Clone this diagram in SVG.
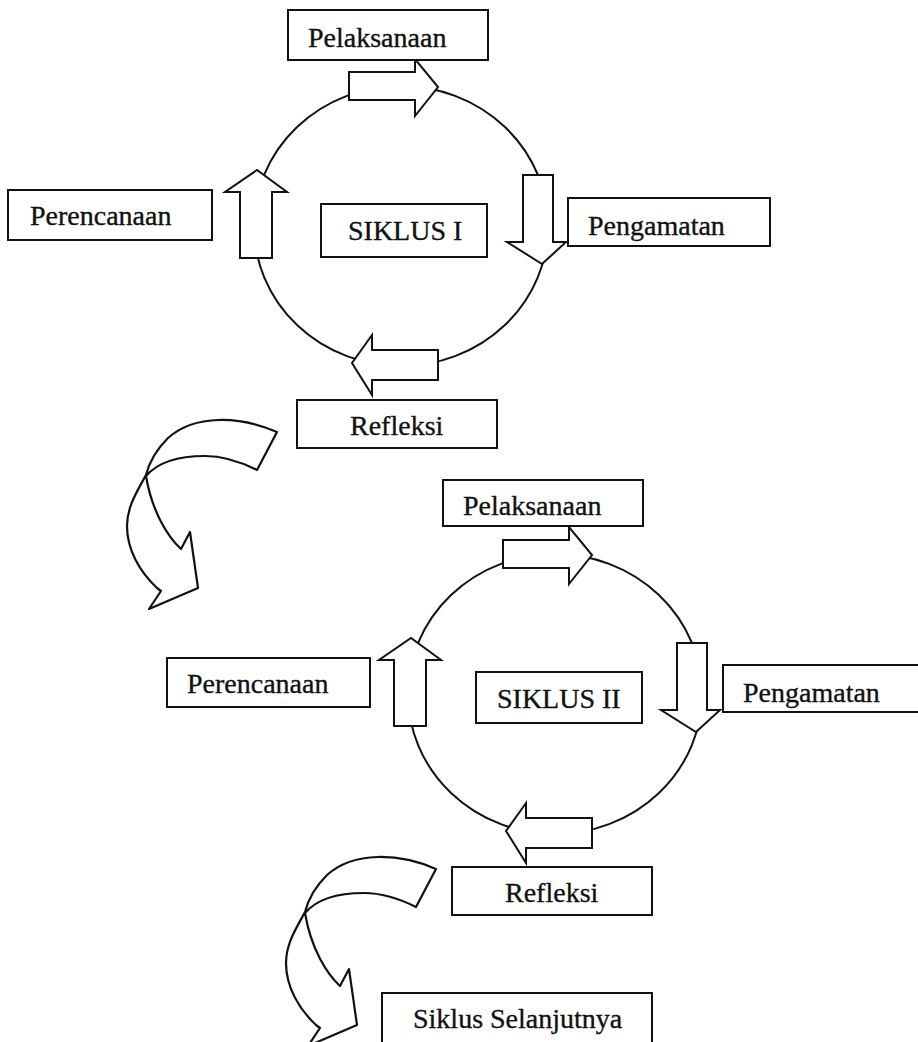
<svg xmlns="http://www.w3.org/2000/svg" width="918" height="1042" viewBox="0 0 918 1042">
<style>
.box{fill:#fff;stroke:#111;stroke-width:2}
.lbl{font-family:"Liberation Serif","Times New Roman",serif;font-size:28px;fill:#111;stroke:#111;stroke-width:0.35}
.ring{fill:none;stroke:#111;stroke-width:2}
.blk{fill:#fff;stroke:#111;stroke-width:2;stroke-linejoin:miter}
.crv{fill:#fff;stroke:#111;stroke-width:2.2;stroke-linejoin:round}
</style>
<defs>
<g id="cycleArrows">
<polygon class="blk" points="349,72 415,72 415,59 438,87 415,116 415,100 349,100"/>
<polygon class="blk" points="523,175 553,175 553,242 566,242 542,264 507,242 523,242"/>
<polygon class="blk" points="438,350 438,380 372,380 372,395 352,363 372,335 372,350"/>
<polygon class="blk" points="240,258 272,258 272,192 287,192 257,170 225,192 240,192"/>
</g>
<path id="curvedArrow" class="crv" d="M277,432 C240,416 195,414 168,438 C156,450 149,463 146,475 C138,490 127,506 127,526 C127,550 140,572 157,588 L161,591 L149,609 L198,588 L190,532 L181,549 C168,537 152,512 146,476 C158,462 180,456 205,456 C225,456 243,463 257,470 Z"/>
</defs>
<rect width="918" height="1042" fill="#fff"/>
<g id="connectors">
<ellipse class="ring" cx="401" cy="226" rx="147" ry="140"/>
<use href="#cycleArrows"/>
<ellipse class="ring" cx="555" cy="694" rx="147" ry="140"/>
<use href="#cycleArrows" transform="translate(154 468)"/>
<use href="#curvedArrow"/>
<use href="#curvedArrow" transform="translate(159 437)"/>
</g>
<g id="pelaksanaan1"><rect class="box" x="288" y="10" width="200" height="50"/><text class="lbl" x="308" y="47">Pelaksanaan</text></g>
<g id="pengamatan1"><rect class="box" x="568" y="198" width="202" height="48"/><text class="lbl" x="588" y="235">Pengamatan</text></g>
<g id="perencanaan1"><rect class="box" x="8" y="190" width="204" height="50"/><text class="lbl" x="30" y="225">Perencanaan</text></g>
<g id="siklus1"><rect class="box" x="321" y="204" width="166" height="53"/><text class="lbl" x="348" y="240">SIKLUS I</text></g>
<g id="refleksi1"><rect class="box" x="297" y="400" width="200" height="48"/><text class="lbl" x="350" y="435">Refleksi</text></g>
<g id="pelaksanaan2"><rect class="box" x="443" y="480" width="200" height="46"/><text class="lbl" x="463" y="515">Pelaksanaan</text></g>
<g id="pengamatan2"><rect class="box" x="723" y="665" width="202" height="47"/><text class="lbl" x="743" y="702">Pengamatan</text></g>
<g id="perencanaan2"><rect class="box" x="167" y="658" width="203" height="49"/><text class="lbl" x="187" y="693">Perencanaan</text></g>
<g id="siklus2"><rect class="box" x="476" y="672" width="166" height="51"/><text class="lbl" x="497" y="708">SIKLUS II</text></g>
<g id="refleksi2"><rect class="box" x="452" y="867" width="200" height="48"/><text class="lbl" x="505" y="902">Refleksi</text></g>
<g id="siklusSelanjutnya"><rect class="box" x="382" y="993" width="270" height="50"/><text class="lbl" x="413" y="1028">Siklus Selanjutnya</text></g>
</svg>
